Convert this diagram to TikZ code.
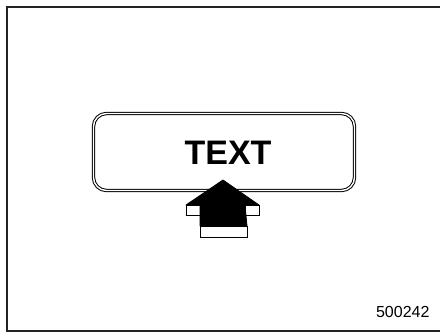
\documentclass[tikz,border=0pt]{standalone}
\usepackage{fontspec}
\setmainfont{Liberation Sans}
\usetikzlibrary{positioning}
\definecolor{framegray}{RGB}{35,35,35}

\begin{document}
\begin{tikzpicture}[x=1pt,y=-1pt,
    frame/.style={draw=framegray,line width=1.6pt},
    panel/.style={draw=black,line width=1pt,double=white,double distance=1.4pt,
      rounded corners=13pt,minimum width=261pt,minimum height=77pt,inner sep=0pt},
    label/.style={font=\fontsize{34}{34}\selectfont\bfseries,text=black},
    face/.style={draw=black,line width=0.8pt,fill=white},
    head/.style={fill=black,draw=black,line width=0.8pt,line join=round}]
  \useasboundingbox (0,0) rectangle (440,334);
  \draw[frame] (7,7) rectangle (445,331);
  \node[panel] (panel) at (224,152) {};
  \node[label] (text) at (228,153) {TEXT};
  % arrow under the panel
  \coordinate (tip) at (223,180);
  \draw[face] (186,205) rectangle (200,215);
  \draw[face] (245,205) rectangle (259,215);
  \draw[face] (200,226) rectangle (247,237);
  \draw[head] (tip) -- (259,205) -- (245,205) -- (247,226) -- (200,226)
    -- (200,205) -- (186,205) -- cycle;
  \node[font=\fontsize{16}{16}\selectfont,anchor=base east] (code) at (433,318) {500242};
\end{tikzpicture}
\end{document}
